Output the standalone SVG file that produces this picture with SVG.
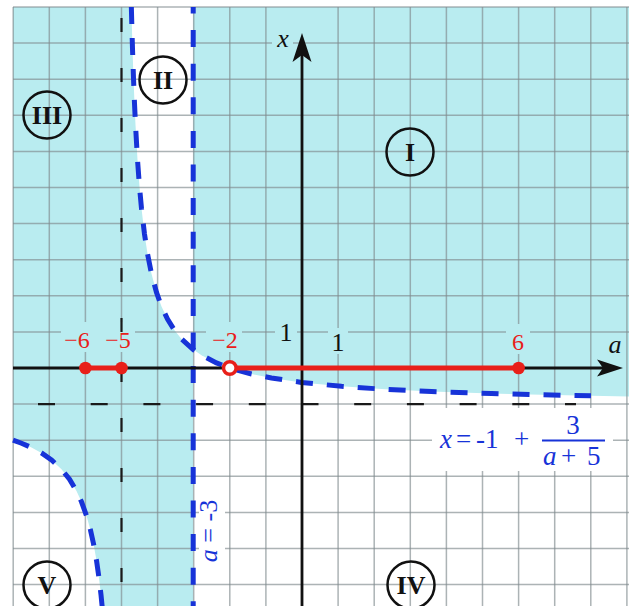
<svg xmlns="http://www.w3.org/2000/svg" width="629" height="606" viewBox="0 0 629 606">
<defs>
<style>
.grid line{stroke:#7f8b8d;stroke-opacity:0.65;stroke-width:1.5}
.cyan{fill:#b9ecf0}
.bgc{fill:#b9ecf0}
.bgw{fill:#ffffff}
.blue{fill:none;stroke:#1733d8;stroke-width:5;stroke-dasharray:17 14}
.kdash{fill:none;stroke:#1a1a1a;stroke-width:2.2}
.axis{stroke:#111;stroke-width:2.8;fill:none}
.red{stroke:#e8201a;stroke-width:5;fill:none}
.rlab{font-family:"Liberation Serif",serif;font-size:24px;fill:#e8201a;text-anchor:middle}
.klab{font-family:"Liberation Serif",serif;font-size:26px;fill:#111;text-anchor:middle}
.blab{font-family:"Liberation Serif",serif;font-size:27px;fill:#1733d8}
.num circle{fill:none;stroke:#111;stroke-width:2.5}
.num text{font-family:"Liberation Serif",serif;font-weight:bold;font-size:26px;fill:#111;text-anchor:middle}
</style>
</defs>
<rect width="629" height="606" fill="#ffffff"/>
<g id="shading">
<path class="cyan" d="M13,7 L131.35,7 L132.5,48.7 L133.5,78.3 L134.5,103.4 L135.5,124.8 L137.5,159.7 L139.5,186.9 L141.5,208.6 L144.5,234.1 L147.5,253.7 L151.5,273.8 L156.5,292.4 L161.5,306.4 L167.5,319.1 L174.5,330.3 L181.5,338.9 L193.2,349.6 L193.2,606 L102.1,606 L101,594.8 L99,577.9 L96.5,560.5 L93.5,543.7 L90.5,530.2 L86.5,515.8 L81.5,501.8 L76.5,491 L69.5,479.3 L61.5,469.3 L51.5,460 L41.5,453 L31.5,447.5 L21.5,443.2 L13,440.1 Z"/>
<path class="cyan" d="M193.2,7 L629,7 L629,396.4 L591,395.8 L541.5,394.8 L491.5,393.5 L431.5,391.5 L381.5,389.1 L341.5,386.3 L301.5,382.4 L271.5,378 L251.5,374 L231.5,368.6 L216.5,362.9 L201.5,355.2 L193.2,349.6 Z"/>
</g>
<g id="grid" class="grid">
<line x1="13.2" y1="7" x2="13.2" y2="606"/>
<line x1="49.3" y1="7" x2="49.3" y2="606"/>
<line x1="85.4" y1="7" x2="85.4" y2="606"/>
<line x1="121.5" y1="7" x2="121.5" y2="606"/>
<line x1="157.6" y1="7" x2="157.6" y2="606"/>
<line x1="193.7" y1="7" x2="193.7" y2="606"/>
<line x1="229.8" y1="7" x2="229.8" y2="606"/>
<line x1="265.9" y1="7" x2="265.9" y2="606"/>
<line x1="338.1" y1="7" x2="338.1" y2="606"/>
<line x1="374.2" y1="7" x2="374.2" y2="606"/>
<line x1="410.3" y1="7" x2="410.3" y2="606"/>
<line x1="446.4" y1="7" x2="446.4" y2="606"/>
<line x1="482.5" y1="7" x2="482.5" y2="606"/>
<line x1="518.6" y1="7" x2="518.6" y2="606"/>
<line x1="554.7" y1="7" x2="554.7" y2="606"/>
<line x1="590.8" y1="7" x2="590.8" y2="606"/>
<line x1="626.9" y1="7" x2="626.9" y2="606"/>
<line x1="13" y1="7" x2="629" y2="7"/>
<line x1="13" y1="43.1" x2="629" y2="43.1"/>
<line x1="13" y1="79.2" x2="629" y2="79.2"/>
<line x1="13" y1="115.3" x2="629" y2="115.3"/>
<line x1="13" y1="151.4" x2="629" y2="151.4"/>
<line x1="13" y1="187.5" x2="629" y2="187.5"/>
<line x1="13" y1="223.6" x2="629" y2="223.6"/>
<line x1="13" y1="259.7" x2="629" y2="259.7"/>
<line x1="13" y1="295.8" x2="629" y2="295.8"/>
<line x1="13" y1="331.9" x2="629" y2="331.9"/>
<line x1="13" y1="404.1" x2="629" y2="404.1"/>
<line x1="13" y1="440.2" x2="629" y2="440.2"/>
<line x1="13" y1="476.3" x2="629" y2="476.3"/>
<line x1="13" y1="512.4" x2="629" y2="512.4"/>
<line x1="13" y1="548.5" x2="629" y2="548.5"/>
<line x1="13" y1="584.6" x2="629" y2="584.6"/>
</g>
<g id="label-backgrounds">
<rect class="bgc" x="272" y="30" width="21" height="21"/>
<rect class="bgc" x="61" y="322" width="74" height="30"/>
<rect class="bgc" x="206" y="322" width="36" height="30"/>
<rect class="bgc" x="275" y="321" width="22" height="24"/>
<rect class="bgc" x="328" y="328" width="20" height="26"/>
<rect class="bgc" x="506" y="324" width="24" height="30"/>
<rect class="bgw" x="432" y="408" width="181" height="63"/>
<rect class="bgw" x="199" y="492" width="26" height="80"/>
</g>
<g id="connectors">
<line class="kdash" x1="121.5" y1="18" x2="121.5" y2="606" stroke-dasharray="14 36"/>
<line class="kdash" x1="38" y1="404.1" x2="576" y2="404.1" stroke-dasharray="17 35.7"/>
<line class="blue" x1="193.2" y1="7" x2="193.2" y2="606" stroke-dashoffset="10.5" style="stroke-dasharray:17 16.6"/>
<polyline class="blue" points="131.35,7 132,31.8 132.5,48.7 133.5,78.3 134.5,103.4 135.5,124.8 137.5,159.7 139.5,186.9 141.5,208.6 144.5,234.1 147.5,253.7 151.5,273.8 156.5,292.4 161.5,306.4 167.5,319.1 174.5,330.3 181.5,338.9 193.2,349.6 201.5,355.2 216.5,362.9 231.5,368.6 251.5,374 271.5,378 301.5,382.4 341.5,386.3 381.5,389.1 431.5,391.5 491.5,393.5 541.5,394.8 591,395.8"/>
<polyline class="blue" points="13,440.1 21.5,443.2 31.5,447.5 41.5,453 51.5,460 61.5,469.3 69.5,479.3 76.5,491 81.5,501.8 86.5,515.8 90.5,530.2 93.5,543.7 96.5,560.5 99,577.9 101,594.8 102.1,606 103,615.4"/>
<line class="axis" x1="13" y1="368" x2="606" y2="368"/>
<path d="M623,368 L597,359.5 L603,368 L597,376.5 Z" fill="#111"/>
<line class="axis" x1="302" y1="606" x2="302" y2="52"/>
<path d="M302,33 L292.5,62 L302,55 L311.5,62 Z" fill="#111"/>
<line class="red" x1="85.4" y1="368" x2="121.5" y2="368"/>
<line class="red" x1="236" y1="368" x2="518.6" y2="368"/>
<circle cx="85.4" cy="368" r="6.3" fill="#e8201a"/>
<circle cx="121.5" cy="368" r="6.3" fill="#e8201a"/>
<circle cx="518.6" cy="368" r="6.3" fill="#e8201a"/>
<circle cx="229.8" cy="368" r="6.3" fill="#ffffff" stroke="#e8201a" stroke-width="3.5"/>
</g>
<g id="labels">
<text class="klab" x="283" y="47" font-style="italic">x</text>
<text class="klab" x="615" y="353" font-style="italic">a</text>
<text class="klab" x="286" y="341">1</text>
<text class="klab" x="338" y="351">1</text>
<text class="rlab" x="77" y="348">−6</text>
<text class="rlab" x="118" y="348">−5</text>
<text class="rlab" x="225" y="348">−2</text>
<text class="rlab" x="518" y="350">6</text>
<text class="blab" transform="translate(217,531) rotate(-90)" text-anchor="middle" style="font-size:26px"><tspan font-style="italic">a</tspan> = -3</text>
<g id="formula">
<text class="blab" x="440" y="448" font-style="italic">x</text>
<text class="blab" x="456" y="448">=</text>
<text class="blab" x="476" y="448">-1</text>
<text class="blab" x="514" y="448">+</text>
<text class="blab" x="573" y="434" text-anchor="middle">3</text>
<line x1="542" y1="440.5" x2="605" y2="440.5" stroke="#1733d8" stroke-width="1.8"/>
<text class="blab" x="543" y="465" font-style="italic">a</text>
<text class="blab" x="561" y="465">+</text>
<text class="blab" x="587" y="465">5</text>
</g>
</g>
<g id="region-I" class="num"><circle cx="410" cy="152" r="23.5"/><text x="410" y="161">I</text></g>
<g id="region-II" class="num"><circle cx="163" cy="80" r="23.5"/><text x="163" y="89">II</text></g>
<g id="region-III" class="num"><circle cx="47" cy="115" r="23.5"/><text x="47" y="124">III</text></g>
<g id="region-IV" class="num"><circle cx="411" cy="585" r="23.5"/><text x="411" y="594">IV</text></g>
<g id="region-V" class="num"><circle cx="47" cy="585" r="23.5"/><text x="47" y="594">V</text></g>
</svg>
